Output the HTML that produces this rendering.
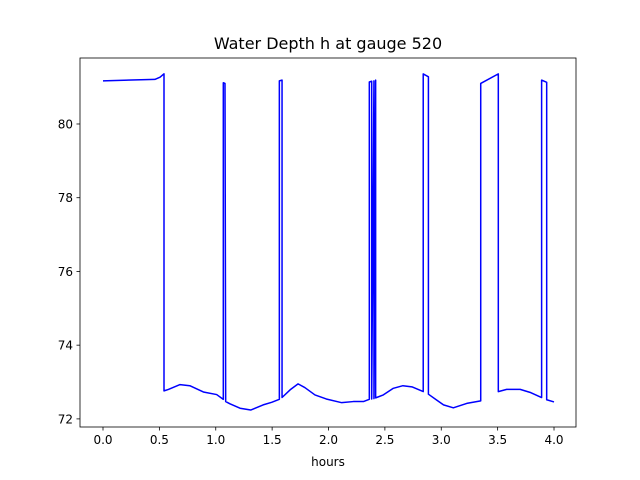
<!DOCTYPE html>
<html><head><meta charset="utf-8"><style>
html,body{margin:0;padding:0;background:#fff;}
svg{display:block;font-family:"DejaVu Sans","Liberation Sans",sans-serif;}
</style></head><body>
<svg id="chart" width="640" height="480">
<rect width="640" height="480" fill="#fff"/>
<text x="328" y="49" font-size="16" text-anchor="middle">Water Depth h at gauge 520</text>
<g id="plot"></g>
</svg>
<script>
const xs=[0,0.46,0.506,0.541,0.541,0.58,0.683,0.77,0.89,1.008,1.067,1.067,1.082,1.088,1.126,1.215,1.31,1.42,1.496,1.564,1.564,1.588,1.588,1.66,1.73,1.79,1.88,1.98,2.117,2.22,2.31,2.362,2.362,2.383,2.383,2.403,2.403,2.418,2.418,2.486,2.575,2.66,2.74,2.84,2.84,2.886,2.886,2.96,3.02,3.107,3.226,3.35,3.35,3.506,3.506,3.58,3.70,3.787,3.89,3.89,3.935,3.935,4.0];
const ys=[81.17,81.21,81.27,81.36,72.76,72.80,72.93,72.90,72.73,72.66,72.53,81.12,81.10,72.47,72.41,72.29,72.24,72.38,72.45,72.53,81.17,81.19,72.58,72.79,72.95,72.85,72.65,72.54,72.44,72.47,72.47,72.53,81.14,81.16,72.54,81.17,72.55,81.19,72.57,72.65,72.83,72.90,72.87,72.74,81.36,81.28,72.67,72.51,72.38,72.30,72.42,72.49,81.10,81.36,72.74,72.80,72.80,72.72,72.58,81.19,81.13,72.52,72.46];
const xTicks=[0,0.5,1,1.5,2,2.5,3,3.5,4];
const xTickLabels=["0.0","0.5","1.0","1.5","2.0","2.5","3.0","3.5","4.0"];
const yTicks=[72,74,76,78,80];
const yTickLabels=["72","74","76","78","80"];
const L=80,R=576,T=58,B=427;
const xMin=-0.204,xMax=4.195,yMin=71.78,yMax=81.79;
const sx=v=>L+(v-xMin)/(xMax-xMin)*(R-L);
const sy=v=>B-(v-yMin)/(yMax-yMin)*(B-T);
const NS="http://www.w3.org/2000/svg";
const g=document.getElementById('plot');
function mk(t,a){const e=document.createElementNS(NS,t);for(const k in a)e.setAttribute(k,a[k]);g.appendChild(e);return e;}
let d=xs.map((x,i)=>(i?'L':'M')+sx(x).toFixed(2)+','+sy(ys[i]).toFixed(2)).join('');
const line=mk('path',{d:d,fill:'none',stroke:'#0000ff','stroke-width':1.5,'stroke-linejoin':'round'});


const frame=mk('rect',{x:L,y:T,width:R-L,height:B-T,fill:'none',stroke:'#000','stroke-width':0.8});


xTicks.forEach((v,i)=>{
  const x=sx(v);
  const tk=mk('line',{x1:x,x2:x,y1:B,y2:B+3.5,stroke:'#000','stroke-width':0.8});
  
  
  const tl=mk('text',{x:x,y:B+17,'font-size':12,'text-anchor':'middle'});
  tl.textContent=xTickLabels[i];
  
  
});
yTicks.forEach((v,i)=>{
  const y=sy(v);
  const tk=mk('line',{x1:L-3.5,x2:L,y1:y,y2:y,stroke:'#000','stroke-width':0.8});
  
  
  const tl=mk('text',{x:L-7,y:y+4.5,'font-size':12,'text-anchor':'end'});
  tl.textContent=yTickLabels[i];
  
  
});
const xt=mk('text',{x:(L+R)/2,y:466,'font-size':12,'text-anchor':'middle'});
xt.textContent='hours';


</script>
</body></html>
